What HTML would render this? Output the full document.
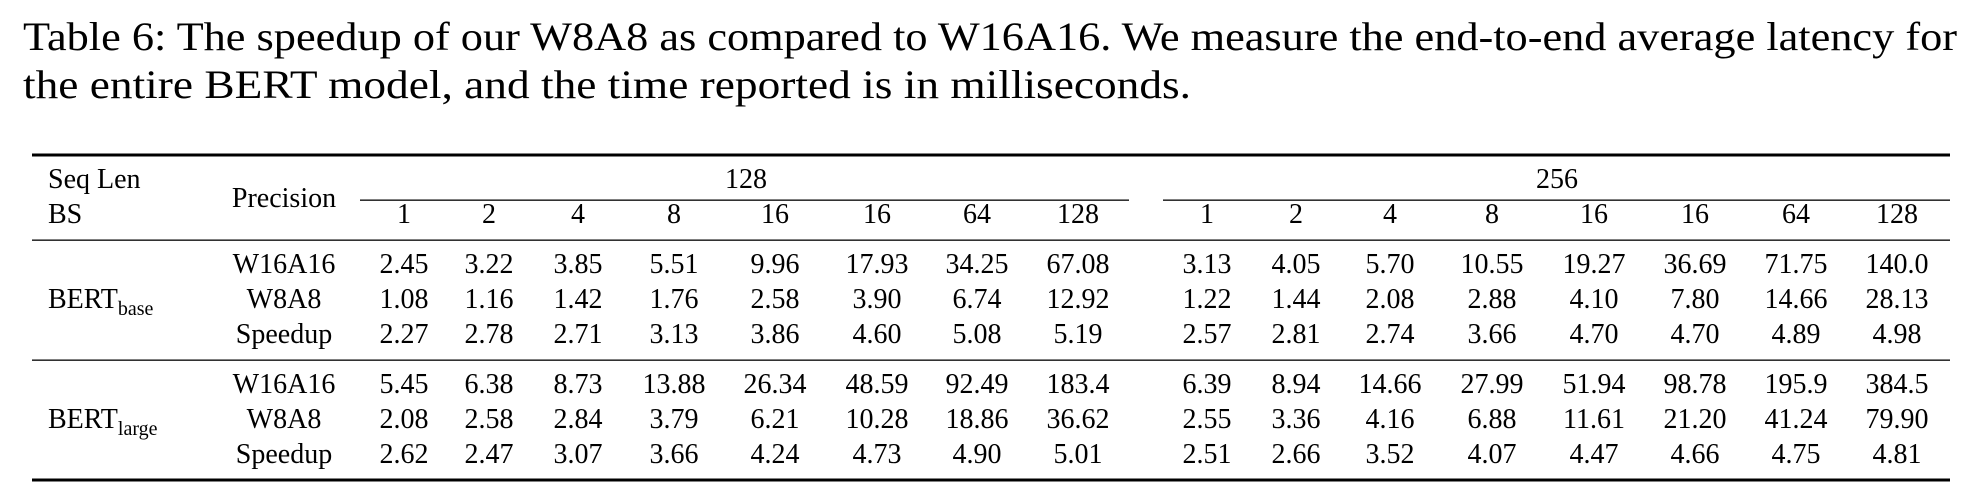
<!DOCTYPE html>
<html><head><meta charset="utf-8"><style>
html,body{margin:0;padding:0;background:#fff;}
svg{display:block;}
text{font-family:"Liberation Serif",serif;fill:#000;}
</style></head><body>
<svg width="1982" height="498" viewBox="0 0 1982 498" xmlns="http://www.w3.org/2000/svg">
<text x="23" y="50" font-size="40" textLength="1934" lengthAdjust="spacingAndGlyphs">Table 6: The speedup of our W8A8 as compared to W16A16. We measure the end-to-end average latency for</text>
<text x="23" y="98" font-size="40" textLength="1168" lengthAdjust="spacingAndGlyphs">the entire BERT model, and the time reported is in milliseconds.</text>
<rect x="32" y="153.5" width="1918" height="3" fill="#000"/>
<rect x="360" y="199.5" width="769" height="1.3" fill="#000"/>
<rect x="1163" y="199.5" width="787" height="1.3" fill="#000"/>
<rect x="32" y="239.5" width="1918" height="1.3" fill="#000"/>
<rect x="32" y="359.5" width="1918" height="1.3" fill="#000"/>
<rect x="32" y="478.5" width="1918" height="3" fill="#000"/>
<g font-size="28">
<text x="48" y="188">Seq Len</text>
<text x="48" y="223">BS</text>
<text x="284" y="207" text-anchor="middle">Precision</text>
<text x="746" y="188" text-anchor="middle">128</text>
<text x="1557" y="188" text-anchor="middle">256</text>
<text x="48" y="308">BERT<tspan font-size="20" dy="7">base</tspan></text>
<text x="48" y="428">BERT<tspan font-size="20" dy="7">large</tspan></text>
<g text-anchor="middle">
<text x="284" y="273">W16A16</text><text x="284" y="308">W8A8</text><text x="284" y="343">Speedup</text>
<text x="284" y="393">W16A16</text><text x="284" y="428">W8A8</text><text x="284" y="463">Speedup</text>
</g>
<g text-anchor="middle" id="cols">
</g>
</g>
<g font-size="28" text-anchor="middle">
<!-- header -->
<text y="223"><tspan x="404">1</tspan><tspan x="489">2</tspan><tspan x="578">4</tspan><tspan x="674">8</tspan><tspan x="775">16</tspan><tspan x="877">16</tspan><tspan x="977">64</tspan><tspan x="1078">128</tspan><tspan x="1207">1</tspan><tspan x="1296">2</tspan><tspan x="1390">4</tspan><tspan x="1492">8</tspan><tspan x="1594">16</tspan><tspan x="1695">16</tspan><tspan x="1796">64</tspan><tspan x="1897">128</tspan></text>
<text y="273"><tspan x="404">2.45</tspan><tspan x="489">3.22</tspan><tspan x="578">3.85</tspan><tspan x="674">5.51</tspan><tspan x="775">9.96</tspan><tspan x="877">17.93</tspan><tspan x="977">34.25</tspan><tspan x="1078">67.08</tspan><tspan x="1207">3.13</tspan><tspan x="1296">4.05</tspan><tspan x="1390">5.70</tspan><tspan x="1492">10.55</tspan><tspan x="1594">19.27</tspan><tspan x="1695">36.69</tspan><tspan x="1796">71.75</tspan><tspan x="1897">140.0</tspan></text>
<text y="308"><tspan x="404">1.08</tspan><tspan x="489">1.16</tspan><tspan x="578">1.42</tspan><tspan x="674">1.76</tspan><tspan x="775">2.58</tspan><tspan x="877">3.90</tspan><tspan x="977">6.74</tspan><tspan x="1078">12.92</tspan><tspan x="1207">1.22</tspan><tspan x="1296">1.44</tspan><tspan x="1390">2.08</tspan><tspan x="1492">2.88</tspan><tspan x="1594">4.10</tspan><tspan x="1695">7.80</tspan><tspan x="1796">14.66</tspan><tspan x="1897">28.13</tspan></text>
<text y="343"><tspan x="404">2.27</tspan><tspan x="489">2.78</tspan><tspan x="578">2.71</tspan><tspan x="674">3.13</tspan><tspan x="775">3.86</tspan><tspan x="877">4.60</tspan><tspan x="977">5.08</tspan><tspan x="1078">5.19</tspan><tspan x="1207">2.57</tspan><tspan x="1296">2.81</tspan><tspan x="1390">2.74</tspan><tspan x="1492">3.66</tspan><tspan x="1594">4.70</tspan><tspan x="1695">4.70</tspan><tspan x="1796">4.89</tspan><tspan x="1897">4.98</tspan></text>
<text y="393"><tspan x="404">5.45</tspan><tspan x="489">6.38</tspan><tspan x="578">8.73</tspan><tspan x="674">13.88</tspan><tspan x="775">26.34</tspan><tspan x="877">48.59</tspan><tspan x="977">92.49</tspan><tspan x="1078">183.4</tspan><tspan x="1207">6.39</tspan><tspan x="1296">8.94</tspan><tspan x="1390">14.66</tspan><tspan x="1492">27.99</tspan><tspan x="1594">51.94</tspan><tspan x="1695">98.78</tspan><tspan x="1796">195.9</tspan><tspan x="1897">384.5</tspan></text>
<text y="428"><tspan x="404">2.08</tspan><tspan x="489">2.58</tspan><tspan x="578">2.84</tspan><tspan x="674">3.79</tspan><tspan x="775">6.21</tspan><tspan x="877">10.28</tspan><tspan x="977">18.86</tspan><tspan x="1078">36.62</tspan><tspan x="1207">2.55</tspan><tspan x="1296">3.36</tspan><tspan x="1390">4.16</tspan><tspan x="1492">6.88</tspan><tspan x="1594">11.61</tspan><tspan x="1695">21.20</tspan><tspan x="1796">41.24</tspan><tspan x="1897">79.90</tspan></text>
<text y="463"><tspan x="404">2.62</tspan><tspan x="489">2.47</tspan><tspan x="578">3.07</tspan><tspan x="674">3.66</tspan><tspan x="775">4.24</tspan><tspan x="877">4.73</tspan><tspan x="977">4.90</tspan><tspan x="1078">5.01</tspan><tspan x="1207">2.51</tspan><tspan x="1296">2.66</tspan><tspan x="1390">3.52</tspan><tspan x="1492">4.07</tspan><tspan x="1594">4.47</tspan><tspan x="1695">4.66</tspan><tspan x="1796">4.75</tspan><tspan x="1897">4.81</tspan></text>
</g>
</svg>
</body></html>
